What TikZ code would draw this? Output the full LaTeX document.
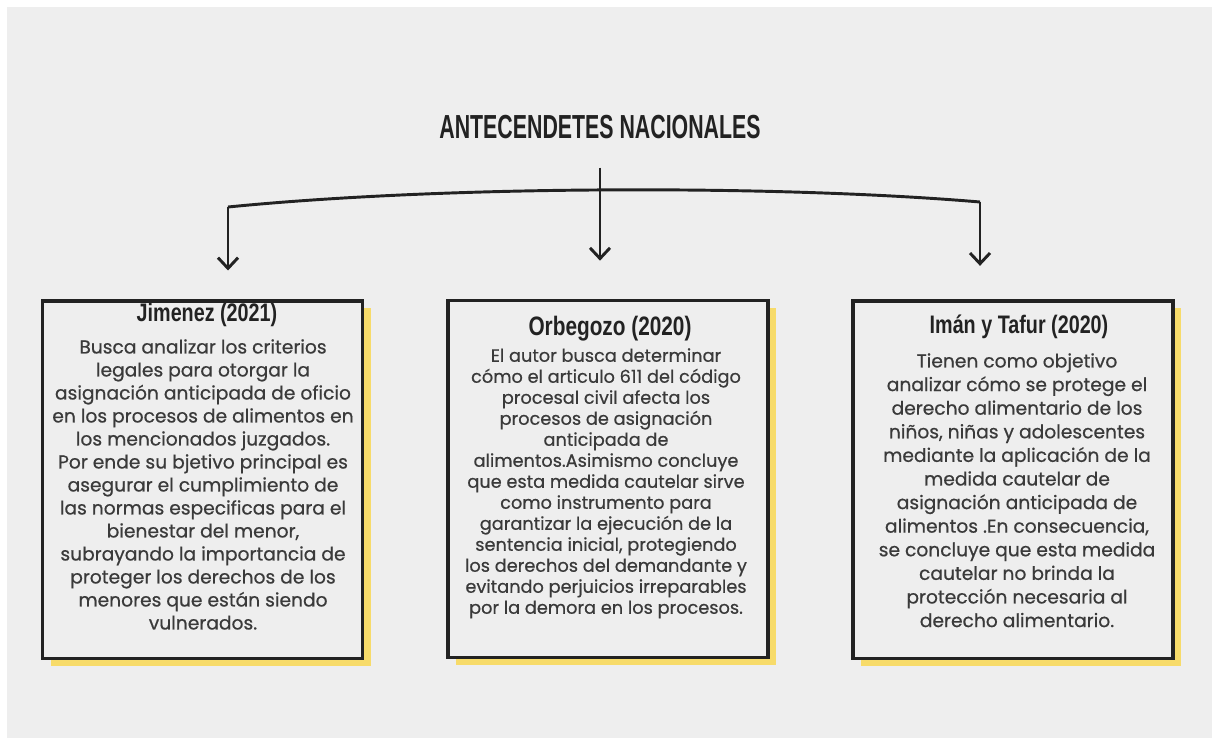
\documentclass[tikz,border=0pt]{standalone}
\usepackage{fontspec}
\setmainfont{Poppins}[FakeBold=0.6]
\newfontfamily\headfont{Liberation Sans}[FakeStretch=0.78]
\newfontfamily\titlefont{Liberation Sans}[FakeStretch=0.64]
\usetikzlibrary{arrows.meta,shadows}
\definecolor{bg}{HTML}{EEEEEE}
\definecolor{ink}{HTML}{222222}
\definecolor{bodyink}{HTML}{3A3A3A}
\definecolor{shadowyellow}{HTML}{F7DB6A}
\tikzset{
  box/.style={draw=ink, line width=2.5pt, fill=bg, minimum width=240pt, minimum height=268pt, inner sep=0pt,
    drop shadow={shadow xshift=6pt, shadow yshift=-5.5pt, fill=shadowyellow, opacity=1}},
  conn/.style={draw=ink, line width=2.2pt},
  tip/.style={-{Straight Barb[length=8pt,width=15pt,line width=2.2pt]}},
  head/.style={font=\headfont\bfseries, text=ink, inner sep=0pt},
  body/.style={align=center, text=bodyink, inner sep=0pt, anchor=north},
}
\begin{document}
\begin{tikzpicture}[x=0.75pt,y=-0.75pt]
\useasboundingbox (0,0) rectangle (1212,738);
\fill[white] (0,0) rectangle (1212,738);
\fill[bg] (7,7) rectangle (1212,738);

\node[font=\titlefont\bfseries\fontsize{25}{28}\selectfont, text=ink] (title) at (600,127) {ANTECENDETES NACIONALES};

\node[box] (box1) at (202.5,479.5) {};
\node[box] (box2) at (608,479) {};
\node[box] (box3) at (1013,479.5) {};

\coordinate (bl) at (228,207);
\coordinate (br) at (980,202);
\draw[conn] (bl) .. controls (450,185) and (780,185) .. (br);
\draw[conn,tip,shorten <=18pt,shorten >=28.5pt] (title.south) -- (title.south |- box2.north);
\draw[conn,tip,shorten >=21.5pt] (bl) -- (bl |- box1.north);
\draw[conn,tip,shorten >=25pt] (br) -- (br |- box3.north);

\node[head, font=\headfont\bfseries\fontsize{19}{22}\selectfont] (h1) at (207,315) {Jimenez (2021)};
\node[head, font=\headfont\bfseries\fontsize{20}{23}\selectfont] (h2) at (610,329) {Orbegozo (2020)};
\node[head, font=\headfont\bfseries\fontsize{19}{22}\selectfont] (h3) at (1019,327) {Imán y Tafur (2020)};

\node[body, font=\fontsize{14}{17.25}\selectfont] (t1) at (203,339) {Busca analizar los criterios\\
legales para otorgar la\\
asignación anticipada de oficio\\
en los procesos de alimentos en\\
los mencionados juzgados.\\
Por ende su bjetivo principal es\\
asegurar el cumplimiento de\\
las normas especificas para el\\
bienestar del menor,\\
subrayando la importancia de\\
proteger los derechos de los\\
menores que están siendo\\
vulnerados.};

\node[body, font=\fontsize{13.3}{15.75}\selectfont] (t2) at (606,348) {El autor busca determinar\\
cómo el articulo 611 del código\\
procesal civil afecta los\\
procesos de asignación\\
anticipada de\\
alimentos.Asimismo concluye\\
que esta medida cautelar sirve\\
como instrumento para\\
garantizar la ejecución de la\\
sentencia inicial, protegiendo\\
los derechos del demandante y\\
evitando perjuicios irreparables\\
por la demora en los procesos.};

\node[body, font=\fontsize{14}{17.7}\selectfont] (t3) at (1017,353) {Tienen como objetivo\\
analizar cómo se protege el\\
derecho alimentario de los\\
niños, niñas y adolescentes\\
mediante la aplicación de la\\
medida cautelar de\\
asignación anticipada de\\
alimentos .En consecuencia,\\
se concluye que esta medida\\
cautelar no brinda la\\
protección necesaria al\\
derecho alimentario.};
\end{tikzpicture}
\end{document}
